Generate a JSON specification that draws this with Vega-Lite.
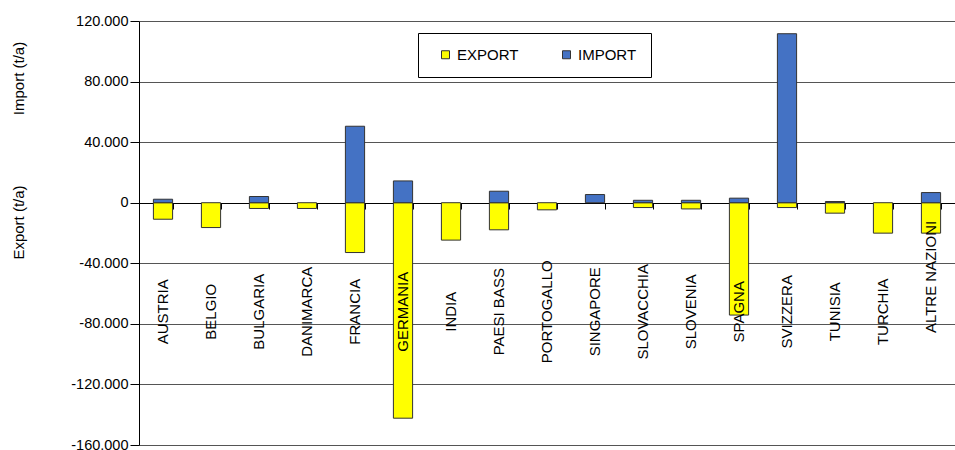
{
  "$schema": "https://vega.github.io/schema/vega-lite/v6.json",
  "width": 816,
  "height": 424,
  "autosize": {"type": "none"},
  "padding": {"left": 139, "top": 21, "right": 0, "bottom": 5},
  "background": "white",
  "config": {
    "locale": {"number": {"decimal": ",", "thousands": ".", "grouping": [3], "currency": ["€", ""], "minus": "-"}},
    "font": "Liberation Sans",
    "view": {"stroke": null}
  },
  "data": {
    "values": [
      {"country": "AUSTRIA", "type": "EXPORT", "value": -10900},
      {"country": "AUSTRIA", "type": "IMPORT", "value": 2300},
      {"country": "BELGIO", "type": "EXPORT", "value": -16400},
      {"country": "BELGIO", "type": "IMPORT", "value": 0},
      {"country": "BULGARIA", "type": "EXPORT", "value": -3800},
      {"country": "BULGARIA", "type": "IMPORT", "value": 4100},
      {"country": "DANIMARCA", "type": "EXPORT", "value": -3800},
      {"country": "DANIMARCA", "type": "IMPORT", "value": 0},
      {"country": "FRANCIA", "type": "EXPORT", "value": -32900},
      {"country": "FRANCIA", "type": "IMPORT", "value": 50500},
      {"country": "GERMANIA", "type": "EXPORT", "value": -142300},
      {"country": "GERMANIA", "type": "IMPORT", "value": 14400},
      {"country": "INDIA", "type": "EXPORT", "value": -24700},
      {"country": "INDIA", "type": "IMPORT", "value": 0},
      {"country": "PAESI BASS", "type": "EXPORT", "value": -17900},
      {"country": "PAESI BASS", "type": "IMPORT", "value": 7600},
      {"country": "PORTOGALLO", "type": "EXPORT", "value": -4700},
      {"country": "PORTOGALLO", "type": "IMPORT", "value": 0},
      {"country": "SINGAPORE", "type": "EXPORT", "value": 0},
      {"country": "SINGAPORE", "type": "IMPORT", "value": 5400},
      {"country": "SLOVACCHIA", "type": "EXPORT", "value": -3200},
      {"country": "SLOVACCHIA", "type": "IMPORT", "value": 1600},
      {"country": "SLOVENIA", "type": "EXPORT", "value": -4100},
      {"country": "SLOVENIA", "type": "IMPORT", "value": 1600},
      {"country": "SPAGNA", "type": "EXPORT", "value": -74200},
      {"country": "SPAGNA", "type": "IMPORT", "value": 3000},
      {"country": "SVIZZERA", "type": "EXPORT", "value": -3200},
      {"country": "SVIZZERA", "type": "IMPORT", "value": 111600},
      {"country": "TUNISIA", "type": "EXPORT", "value": -6900},
      {"country": "TUNISIA", "type": "IMPORT", "value": 800},
      {"country": "TURCHIA", "type": "EXPORT", "value": -20100},
      {"country": "TURCHIA", "type": "IMPORT", "value": 0},
      {"country": "ALTRE NAZIONI", "type": "EXPORT", "value": -20100},
      {"country": "ALTRE NAZIONI", "type": "IMPORT", "value": 6700}
    ]
  },
  "encoding": {
    "x": {
      "field": "country",
      "type": "nominal",
      "sort": null,
      "scale": {"paddingInner": 0.6, "paddingOuter": 0.3},
      "axis": {
        "orient": "bottom",
        "offset": -242,
        "title": null,
        "labels": false,
        "grid": false,
        "domainColor": "#000000",
        "domainWidth": 1,
        "tickColor": "#000000",
        "tickSize": 6,
        "tickBand": "extent"
      }
    }
  },
  "layer": [
    {
      "transform": [{"filter": "datum.value != 0"}],
      "mark": {"type": "bar", "stroke": "#333333", "strokeWidth": 1},
      "encoding": {
        "y": {
          "field": "value",
          "type": "quantitative",
          "stack": null,
          "scale": {"domain": [-160000, 120000], "nice": false},
          "axis": {
            "orient": "left",
            "values": [-160000, -120000, -80000, -40000, 0, 40000, 80000, 120000],
            "format": ",d",
            "labelFont": "Liberation Sans",
            "labelFontSize": 14.5,
            "labelColor": "#000000",
            "labelPadding": 2,
            "tickSize": 9,
            "tickColor": "#000000",
            "domainColor": "#000000",
            "grid": true,
            "gridColor": "#555555",
            "gridWidth": 1,
            "gridOpacity": 1,
            "title": "Import (t/a)",
            "titleFont": "Liberation Sans",
            "titleFontSize": 15,
            "titleFontWeight": "normal",
            "titleColor": "#000000",
            "titleAngle": 270,
            "titleAlign": "center",
            "titleBaseline": "middle",
            "titleX": -121,
            "titleY": 57
          }
        },
        "color": {
          "field": "type",
          "type": "nominal",
          "scale": {"domain": ["EXPORT", "IMPORT"], "range": ["#FFFF00", "#4472C4"]},
          "legend": {
            "title": null,
            "orient": "none",
            "legendX": 279,
            "legendY": 12,
            "direction": "horizontal",
            "strokeColor": "#000000",
            "fillColor": "#ffffff",
            "padding": 14,
            "symbolType": "square",
            "symbolSize": 64,
            "symbolStrokeColor": "#333333",
            "symbolStrokeWidth": 1,
            "symbolOpacity": 1,
            "symbolOffset": 6,
            "labelFont": "Liberation Sans",
            "labelFontSize": 15,
            "labelColor": "#000000",
            "labelOffset": 4,
            "columnPadding": 34
          }
        }
      }
    },
    {
      "transform": [{"filter": "datum.type == 'EXPORT' && datum.country != 'ALTRE NAZIONI'"}],
      "mark": {"type": "text", "angle": 270, "align": "center", "baseline": "middle", "fontSize": 15, "font": "Liberation Sans", "color": "#000000"},
      "encoding": {
        "y": {
          "datum": -72000,
          "type": "quantitative",
          "axis": {
            "orient": "left",
            "title": "Export (t/a)",
            "labels": false,
            "ticks": false,
            "domain": false,
            "grid": false,
            "titleFont": "Liberation Sans",
            "titleFontSize": 15,
            "titleFontWeight": "normal",
            "titleColor": "#000000",
            "titleAngle": 270,
            "titleAlign": "center",
            "titleBaseline": "middle",
            "titleX": -121,
            "titleY": 201
          }
        },
        "text": {"field": "country"}
      }
    },
    {
      "transform": [{"filter": "datum.type == 'EXPORT' && datum.country == 'ALTRE NAZIONI'"}],
      "mark": {"type": "text", "angle": 270, "align": "center", "baseline": "middle", "fontSize": 15, "font": "Liberation Sans", "color": "#000000"},
      "encoding": {
        "y": {"datum": -49000, "type": "quantitative", "axis": null},
        "text": {"field": "country"}
      }
    }
  ],
  "resolve": {"axis": {"y": "independent"}}
}
